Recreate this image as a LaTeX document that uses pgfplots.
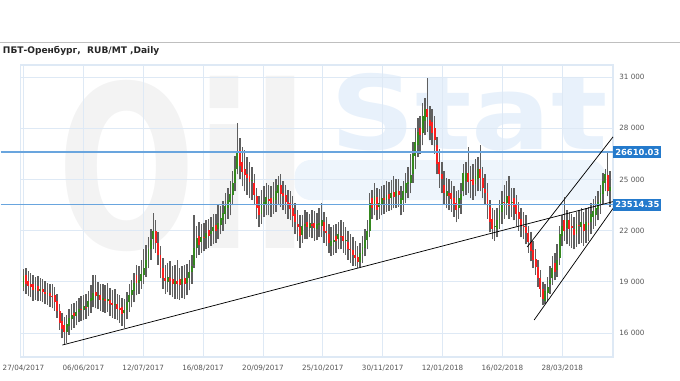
\documentclass[border=0pt]{standalone}
\usepackage{pgfplots}
\pgfplotsset{compat=1.18}
\usepackage{pgfplotstable}
\usepackage{fontspec}
\setmainfont{DejaVu Sans}
\definecolor{gridc}{RGB}{222,233,245}
\definecolor{lvl}{RGB}{105,165,222}
\definecolor{lvlbox}{RGB}{36,122,204}
\definecolor{wick}{RGB}{95,95,95}
\definecolor{upc}{RGB}{52,135,30}
\definecolor{dnc}{RGB}{250,30,30}
\definecolor{tickc}{RGB}{85,85,85}
\definecolor{wmgray}{RGB}{243,243,243}
\definecolor{wmblue}{RGB}{232,241,251}
\definecolor{wmband}{RGB}{238,245,252}

\pgfplotstableread{
i o c h l
0 18700 19350 19750 18450
1 19400 18900 19800 18300
2 19050 18750 19650 18150
3 18850 18700 19500 18100
4 18900 18500 19400 17900
5 18550 18650 19300 17950
6 18750 18450 19350 17850
7 18450 18600 19250 17900
8 18550 18400 19150 17800
9 18400 18300 19050 17700
10 18300 18350 18950 17650
11 18350 18150 18900 17550
12 18150 18100 18850 17450
13 18250 17800 18700 17300
14 17850 17300 18300 16900
15 17300 16600 17700 16200
16 16700 16250 17200 15700
17 16450 16050 16950 15300
18 16050 16550 17050 15400
19 16400 16900 17400 15900
20 16850 17050 17700 16200
21 17200 17000 17750 16300
22 17000 17250 17850 16450
23 17250 17400 18050 16650
24 17400 17350 18150 16700
25 17350 17600 18250 16750
26 17550 17450 18300 16850
27 17500 17900 18450 17000
28 17850 18050 18800 17200
29 17950 18350 19400 17500
30 18400 18150 19400 17450
31 18150 18200 19000 17400
32 18200 17950 18850 17300
33 17950 18050 18900 17250
34 18000 17900 18800 17200
35 17900 18000 18950 17250
36 17950 17700 18650 17000
37 17750 17650 18500 16900
38 17650 17700 18550 16850
39 17700 17400 18300 16750
40 17450 17350 18200 16600
41 17500 17100 18050 16400
42 17150 17350 18000 16300
43 17350 17800 18400 16800
44 17800 18200 18850 17250
45 18200 18500 19100 17500
46 18450 18950 19500 17800
47 19400 18950 20000 18200
48 18950 19100 19900 18300
49 19050 19450 20300 18600
50 19400 19800 20900 18900
51 19800 20250 21150 19300
52 20250 20950 21600 19800
53 20900 21450 22100 20300
54 21500 22000 23030 20900
55 21950 21300 22600 20700
56 21300 20550 21900 20000
57 20550 19800 21100 19200
58 19800 19200 20400 18600
59 19200 19050 20000 18300
60 19000 19300 20100 18400
61 19250 19050 20200 18200
62 19150 18850 19900 18100
63 18900 19050 20000 18000
64 19050 18900 20300 18000
65 19150 18800 19800 17950
66 18850 19150 19950 18050
67 19250 18900 20000 18000
68 18950 19250 20050 18200
69 19200 19600 20300 18500
70 19600 19950 20600 18900
71 20000 21000 22900 19800
72 21000 21550 22300 20400
73 21700 21150 22500 20600
74 21350 21600 22400 20700
75 21650 21550 22450 20800
76 21550 21850 22600 20900
77 22050 21700 22700 21000
78 21800 22000 22800 21100
79 21950 22200 22950 21200
80 22350 22000 23000 21300
81 22100 22450 23500 21500
82 22350 22750 23450 21800
83 22650 23050 23750 22000
84 22950 23450 24200 22400
85 23350 23800 24500 22700
86 23650 24150 24900 22900
87 24100 24800 25500 23500
88 24800 25600 26400 24300
89 25600 26600 28300 25300
90 26700 25800 27400 25000
91 26000 25450 26900 24600
92 25600 25250 26700 24300
93 25300 25100 26300 24100
94 25200 24850 26000 23900
95 24900 24950 25700 23800
96 24800 24100 25300 23500
97 24000 23300 24500 22700
98 23450 22900 24000 22200
99 23000 23500 24400 22400
100 23550 23700 24600 22800
101 23550 23950 24800 22900
102 23850 23750 24650 22900
103 23900 23600 24600 22800
104 23650 23950 24850 23000
105 23800 24300 25000 23100
106 24200 24650 25200 23500
107 24700 24150 25300 23400
108 24200 24000 24900 23200
109 24100 23700 24700 23000
110 23700 23550 24400 22700
111 23600 23250 24300 22600
112 23300 22850 24000 22200
113 22950 22500 23600 21800
114 22400 22200 23200 21400
115 22200 21700 22900 21000
116 21750 22250 22900 21300
117 22250 22400 23200 21500
118 22500 22200 23100 21500
119 22150 22450 23000 21600
120 22400 22300 23200 21550
121 22450 22150 23150 21400
122 22100 22400 23050 21450
123 22350 22450 23300 21600
124 22300 22600 23620 21650
125 22500 21950 23100 21300
126 21950 21850 22800 21100
127 21800 21300 22400 20700
128 21100 21400 22200 20500
129 21350 21450 22350 20600
130 21700 21400 22400 20700
131 21500 21800 22500 20900
132 21700 21650 22600 20900
133 21700 21400 22500 20700
134 21400 21450 22200 20600
135 21350 20950 22000 20300
136 20950 20850 21800 20100
137 20850 20550 21600 19950
138 20550 20400 21400 19900
139 20450 20150 21100 19800
140 20150 20700 21300 19850
141 20650 21050 21700 20100
142 21000 21450 22100 20500
143 21450 21950 22600 20900
144 22000 23600 24200 21600
145 23900 23300 24400 22700
146 23500 24050 24800 22900
147 23950 23200 24500 22600
148 23400 23600 24450 22700
149 23500 23900 24600 22900
150 23900 23800 24700 23000
151 23800 24100 24900 23100
152 24150 23850 24850 23150
153 23900 24200 24950 23200
154 24250 23950 25230 23300
155 24000 24300 25000 23350
156 24300 24100 25050 23400
157 23500 23900 24600 22900
158 23800 24300 24900 23100
159 24200 24800 25400 23600
160 24750 24850 25700 23900
161 24800 25250 26500 24200
162 25300 26500 27200 24800
163 26400 27200 28000 25600
164 27000 27800 28600 26300
165 28000 27600 28700 26500
166 27700 28700 29500 27000
167 28400 29150 29800 27600
168 29150 28650 30940 27800
169 28500 28150 29300 27300
170 28350 27700 29100 27000
171 28000 27300 28700 26500
172 27000 25900 27500 25300
173 26000 25300 26800 24500
174 25300 25000 26000 24200
175 24700 24200 25500 23500
176 24050 24350 25100 23300
177 24200 24050 25000 23200
178 24200 23850 24900 23100
179 23900 23500 24600 22800
180 23600 23200 24300 22500
181 23300 23900 24400 22700
182 23800 24150 24800 23000
183 24300 25400 25900 24000
184 24900 25400 26000 24100
185 25400 24850 26900 24200
186 24950 24900 25800 23900
187 25000 24650 25900 23800
188 24750 25200 26200 24000
189 25050 25600 26300 24300
190 25600 25100 27000 24300
191 25100 24500 25700 23900
192 24450 24200 25300 23500
193 24200 23500 24800 22700
194 23400 22500 23800 21900
195 22700 22100 23300 21500
196 22200 22250 23200 21400
197 22100 22650 23300 21600
198 22600 23200 23800 22100
199 23100 23600 24300 22400
200 23650 23600 24700 22700
201 23600 24050 24900 22900
202 24000 23450 25200 22700
203 23600 23700 24500 22800
204 23900 23400 24500 22600
205 23550 23000 24100 22300
206 23100 22700 23700 22000
207 22700 22250 23300 21600
208 22300 22250 23100 21500
209 22200 21850 22900 21200
210 21850 21350 22300 20700
211 21350 20800 21900 20200
212 20850 20300 21400 19800
213 20350 19850 20900 19400
214 19850 19200 20300 18700
215 19200 18600 19700 18100
216 18600 18000 19000 17640
217 17900 18450 18900 17700
218 18350 18700 19300 17900
219 18900 19100 19900 18300
220 19200 19800 20500 18800
221 20100 19600 20700 19100
222 19700 20300 21200 19300
223 20400 21800 22300 20000
224 21700 22300 22900 21100
225 22600 22000 23970 21400
226 22150 22650 23200 21200
227 22600 22100 23100 21100
228 22250 22150 23000 21000
229 22100 21750 22800 20900
230 21800 22400 23100 21050
231 22350 22250 23200 21200
232 22200 22500 23300 21300
233 22400 21950 23100 21100
234 22050 22500 23300 21300
235 22450 22350 23400 21400
236 22500 22950 23600 21800
237 22800 23150 23850 22100
238 22900 23350 24050 22300
239 23250 23700 24300 22600
240 23600 24200 24700 23000
241 24150 24900 25400 23500
242 24800 25300 25600 24300
243 25250 24350 26610 24000
244 24300 24550 25500 23400
}\candles

\begin{document}
\begin{tikzpicture}[x=1pt,y=1pt]
\useasboundingbox (0,0) rectangle (510,285);
% watermark
\fill[wmband, rounded corners=12pt] (221,135) rectangle (454,165);
\node[text=wmgray, font=\bfseries\fontsize{170}{170}\selectfont, xscale=0.72, inner sep=0pt] at (137,162) {Oil};
\node[text=wmblue, font=\bfseries\fontsize{77}{77}\selectfont, xscale=1.15, inner sep=0pt] at (352,201) {Stat};
% separator and title
\draw[black!25, line width=0.6pt] (0,253.5) -- (510,253.5);
\node[anchor=west, inner sep=0pt, font=\bfseries\fontsize{6.8}{8}\selectfont, text=black!85] at (2,247) {ПБТ-Оренбург,\ \ RUB/MT ,Daily};
\begin{axis}[
  at={(15.45pt,17.25pt)}, anchor=south west,
  scale only axis, width=444.3pt, height=219pt,
  xmin=-1.2, xmax=245.2, ymin=14594, ymax=31705,
  scaled y ticks=false, scaled x ticks=false,
  axis line style={gridc, line width=0.8pt},
  xtick={0,24.9,49.8,74.7,99.6,124.5,149.4,174.3,199.2,224.1},
  xticklabels={27/04/2017,06/06/2017,12/07/2017,16/08/2017,20/09/2017,25/10/2017,30/11/2017,12/01/2018,16/02/2018,28/03/2018},
  ytick={16000,19000,22000,25000,28000,31000},
  yticklabels={16 000,19 000,22 000,25 000,28 000,31 000},
  yticklabel pos=right,
  major tick length=0pt,
  grid=major, major grid style={gridc, line width=0.6pt},
  tick label style={font=\fontsize{5.4}{6}\selectfont, text=tickc},
  yticklabel style={xshift=1.2pt},
  xticklabel style={yshift=-2.5pt},
  clip=false,
]
% candle wicks
\addplot[only marks, mark=*, mark size=0pt, mark options={draw=none, fill=none}, forget plot,
  error bars/.cd, y dir=plus, y explicit, error mark=none,
  error bar style={draw=wick, line width=1.1pt}]
  table[x=i, y=l, y error plus expr=\thisrow{h}-\thisrow{l}] {\candles};
% up bodies
\addplot[only marks, mark=*, mark size=0pt, mark options={draw=none, fill=none}, forget plot,
  restrict expr to domain={\thisrow{c}-\thisrow{o}}{1:100000},
  error bars/.cd, y dir=plus, y explicit, error mark=none,
  error bar style={draw=upc, line width=1.45pt}]
  table[x=i, y=o, y error plus expr=\thisrow{c}-\thisrow{o}] {\candles};
% down bodies
\addplot[only marks, mark=*, mark size=0pt, mark options={draw=none, fill=none}, forget plot,
  restrict expr to domain={\thisrow{o}-\thisrow{c}}{1:100000},
  error bars/.cd, y dir=plus, y explicit, error mark=none,
  error bar style={draw=dnc, line width=1.45pt}]
  table[x=i, y=c, y error plus expr=\thisrow{o}-\thisrow{c}] {\candles};
% level lines
\addplot[lvl, line width=1.0pt, forget plot] coordinates {(-9.55,26610.03) (245.2,26610.03)};
\addplot[lvl, line width=1.0pt, forget plot] coordinates {(-9.55,23514.35) (245.2,23514.35)};
% trend lines
\addplot[black, line width=0.55pt, forget plot] coordinates {(16.2,15297) (245.2,23700)};
\addplot[black, line width=0.55pt, forget plot] coordinates {(209.5,21040) (245.2,27490)};
\addplot[black, line width=0.55pt, forget plot] coordinates {(212.4,16762) (245.2,23300)};
% level labels
\node[anchor=west, fill=lvlbox, text=white, font=\bfseries\fontsize{6.3}{7}\selectfont, inner xsep=1.5pt, inner ysep=0pt, minimum height=9pt] at (axis cs:245.2,26610.03) {26610.03};
\node[anchor=west, fill=lvlbox, text=white, font=\bfseries\fontsize{6.3}{7}\selectfont, inner xsep=1.5pt, inner ysep=0pt, minimum height=9pt] at (axis cs:245.2,23514.35) {23514.35};
\end{axis}
\end{tikzpicture}
\end{document}
